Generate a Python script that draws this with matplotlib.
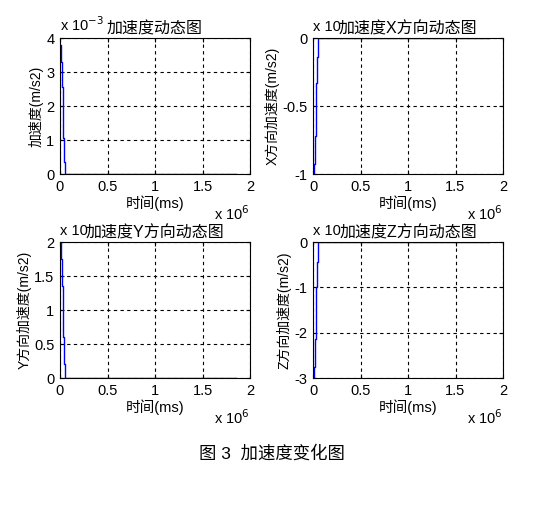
import numpy as np
import matplotlib
matplotlib.use("Agg")
import matplotlib.pyplot as plt
from matplotlib.ticker import FuncFormatter

plt.rcParams['font.family'] = ['Liberation Sans', 'Noto Sans CJK SC', 'DejaVu Sans']

# time samples (ms)
t = [0, 9000, 18000, 27000, 36000, 45000, 54000, 1850000]

# acceleration values (m/s2)
acc = [3.8e-3, 3.3e-3, 2.55e-3, 1.8e-3, 1.05e-3, 0.35e-3, 0.0, 0.0]
acc_x = [-1.0e-3, -0.93e-3, -0.72e-3, -0.52e-3, -0.33e-3, -0.14e-3, 0.0, 0.0]
acc_y = [2.0e-3, 1.75e-3, 1.35e-3, 1.0e-3, 0.6e-3, 0.2e-3, 0.0, 0.0]
acc_z = [-3.0e-3, -2.75e-3, -2.15e-3, -1.6e-3, -1.0e-3, -0.45e-3, 0.0, 0.0]

titles = ["加速度动态图", "加速度X方向动态图", "加速度Y方向动态图", "加速度Z方向动态图"]
ylabels = ["加速度(m/s2)", "X方向加速度(m/s2)", "Y方向加速度(m/s2)", "Z方向加速度(m/s2)"]
ylims = [(0, 4e-3), (-1e-3, 0), (0, 2e-3), (-3e-3, 0)]
yticks = [[0, 1e-3, 2e-3, 3e-3, 4e-3],
          [-1e-3, -0.5e-3, 0],
          [0, 0.5e-3, 1e-3, 1.5e-3, 2e-3],
          [-3e-3, -2e-3, -1e-3, 0]]
xticks = [0, 0.5e6, 1e6, 1.5e6, 2e6]
series = [acc, acc_x, acc_y, acc_z]
# exponent labels; right-hand ones are hidden under the title in the picture
exp_text = ["x 10$^{-3}$", "x 10", "x 10", "x 10"]

W, H = 547, 513
boxes = [(60, 38), (313, 38), (60, 242), (313, 242)]
aw, ah = 190, 136

fig = plt.figure(figsize=(W / 100, H / 100), dpi=100)

def fmt(v, pos):
    s = "%g" % v
    return s

for i in range(4):
    x0, y0 = boxes[i]
    ax = fig.add_axes([x0 / W, (H - y0 - ah) / H, aw / W, ah / H])
    ax.plot(t, series[i], color='#0000ff', lw=1.0, drawstyle='steps-post')
    ax.set_xlim(0, 2e6)
    ax.set_ylim(*ylims[i])
    ax.set_xticks(xticks)
    ax.set_yticks(yticks[i])
    ax.xaxis.set_major_formatter(FuncFormatter(lambda v, p: fmt(v / 1e6, p)))
    ax.yaxis.set_major_formatter(FuncFormatter(lambda v, p: fmt(round(v / 1e-3, 6), p)))
    ax.grid(True, color='black', linestyle=(0, (3, 3)), lw=0.8)
    ax.tick_params(direction='in', length=3, labelsize=10.5, pad=4, top=True, right=True)
    for sp in ax.spines.values():
        sp.set_linewidth(0.8)
    ax.set_title(titles[i], fontsize=11.5, pad=3)
    ax.set_ylabel(ylabels[i], fontsize=10, labelpad=2)
    ax.set_xlabel("时间(ms)", fontsize=10.5, labelpad=1)
    ax.text(0.0, 1.03, exp_text[i], transform=ax.transAxes, fontsize=10.5,
            ha='left', va='bottom')
    ax.text(1.0, -0.22, "x 10$^{6}$", transform=ax.transAxes, fontsize=10.5,
            ha='right', va='top')

fig.text(272 / W, 1 - 453 / H, "图 3  加速度变化图", fontsize=12.5,
         ha='center', va='center')

fig.savefig("out.png", dpi=100)
